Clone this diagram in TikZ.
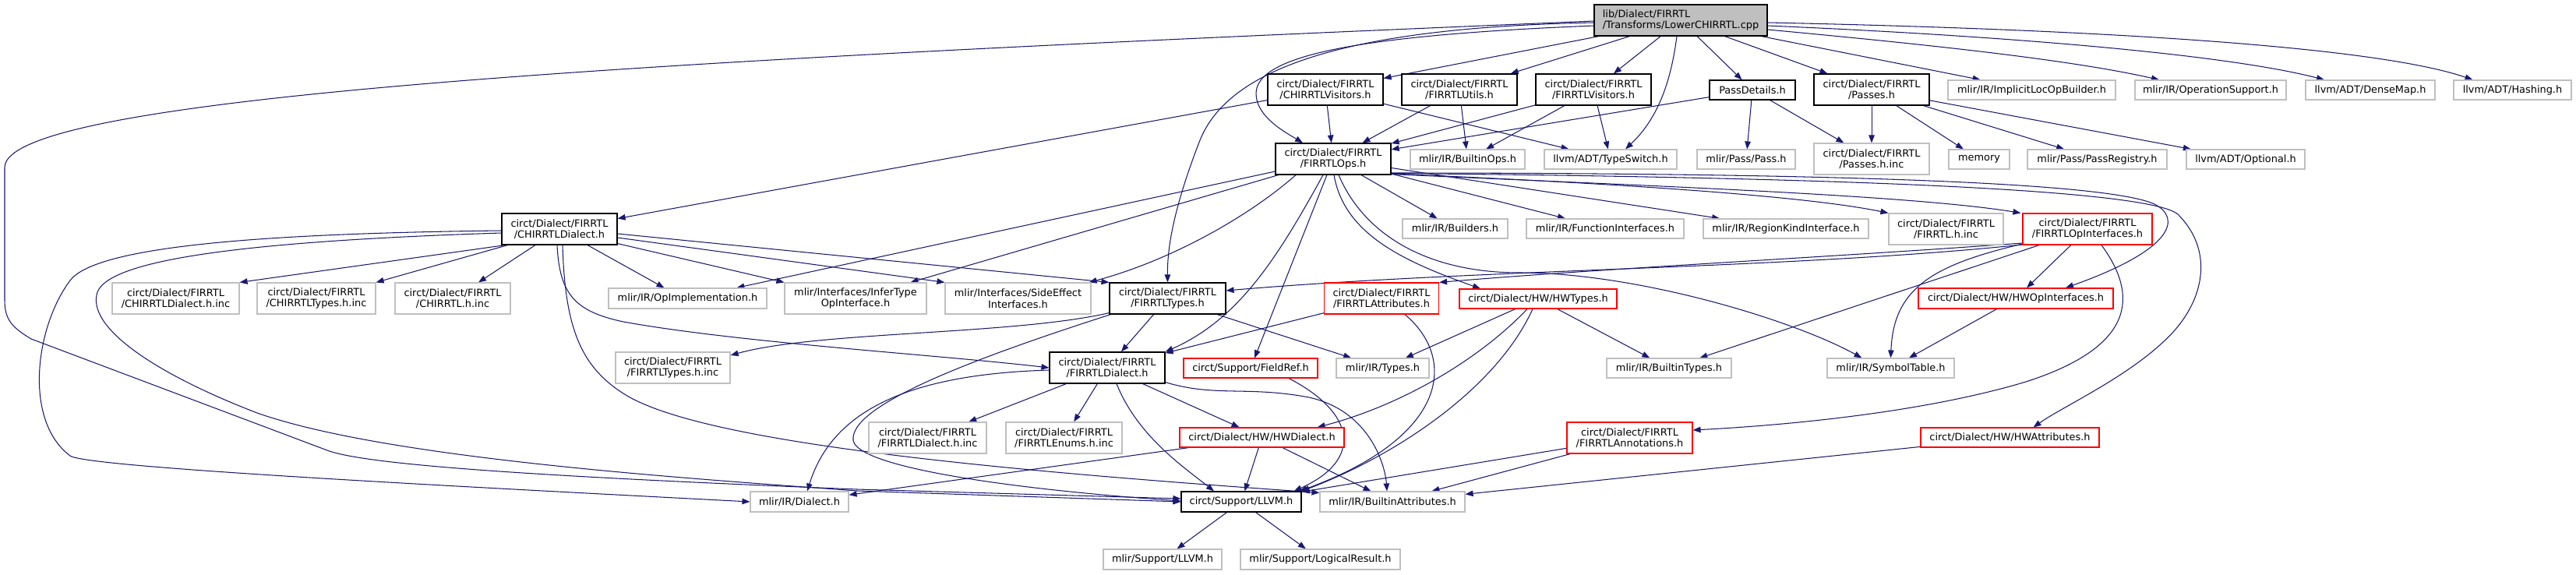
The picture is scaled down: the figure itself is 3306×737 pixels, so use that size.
\documentclass[tikz,border=0pt]{standalone}
\usepackage{fontspec}
\setmainfont{DejaVu Sans}
\usetikzlibrary{arrows.meta,calc,backgrounds}
\definecolor{edgeblue}{HTML}{191970}
\definecolor{lgray}{HTML}{BFBFBF}
\definecolor{rootgray}{HTML}{BFBFBF}
\tikzset{
  base/.style={inner sep=0pt, line width=1.15pt, fill=white, align=center,
    font=\fontsize{12.9}{14.5}\selectfont},
  nb/.style={base, draw=black},
  ng/.style={base, draw=lgray},
  nr/.style={base, draw=red},
  nroot/.style={base, draw=black, fill=rootgray, align=left},
  e/.style={draw=edgeblue, line width=1.05pt, -{Triangle[length=10pt,width=7.5pt]}}
}
\begin{document}
\begin{tikzpicture}[x=1pt,y=-1pt]
\useasboundingbox (0,0) rectangle (3306,737);
% row 0
\node[nroot, minimum width=222, minimum height=40] (cpp) at (2157,26) {lib/Dialect/FIRRTL\\/Transforms/LowerCHIRRTL.cpp};
% row 1
\node[nb, minimum width=148, minimum height=40] (chv) at (1701,115) {circt/Dialect/FIRRTL\\/CHIRRTLVisitors.h};
\node[nb, minimum width=148, minimum height=40] (fu) at (1873,115) {circt/Dialect/FIRRTL\\/FIRRTLUtils.h};
\node[nb, minimum width=148, minimum height=40] (fv) at (2045,115) {circt/Dialect/FIRRTL\\/FIRRTLVisitors.h};
\node[nb, minimum width=110, minimum height=25] (pd) at (2249,115.5) {PassDetails.h};
\node[nb, minimum width=148, minimum height=40] (ps) at (2402,115) {circt/Dialect/FIRRTL\\/Passes.h};
\node[ng, minimum width=215, minimum height=25] (ilob) at (2607.5,115.5) {mlir/IR/ImplicitLocOpBuilder.h};
\node[ng, minimum width=194, minimum height=25] (opsup) at (2837,115.5) {mlir/IR/OperationSupport.h};
\node[ng, minimum width=166, minimum height=25] (dm) at (3042,115.5) {llvm/ADT/DenseMap.h};
\node[ng, minimum width=151, minimum height=25] (hs) at (3224.5,115.5) {llvm/ADT/Hashing.h};
% row 2
\node[nb, minimum width=148, minimum height=40] (ops) at (1711,204) {circt/Dialect/FIRRTL\\/FIRRTLOps.h};
\node[ng, minimum width=147, minimum height=25] (bo) at (1883.5,204.5) {mlir/IR/BuiltinOps.h};
\node[ng, minimum width=170, minimum height=25] (tsw) at (2067,204.5) {llvm/ADT/TypeSwitch.h};
\node[ng, minimum width=126, minimum height=25] (pass) at (2241,204.5) {mlir/Pass/Pass.h};
\node[ng, minimum width=148, minimum height=40] (psinc) at (2402,204) {circt/Dialect/FIRRTL\\/Passes.h.inc};
\node[ng, minimum width=78, minimum height=25] (mem) at (2540,204.5) {memory};
\node[ng, minimum width=179, minimum height=25] (preg) at (2691.5,204.5) {mlir/Pass/PassRegistry.h};
\node[ng, minimum width=152, minimum height=25] (opt) at (2882,204.5) {llvm/ADT/Optional.h};
% row 3
\node[nb, minimum width=148, minimum height=40] (chd) at (718,294) {circt/Dialect/FIRRTL\\/CHIRRTLDialect.h};
\node[ng, minimum width=135, minimum height=25] (bld) at (1867.5,293.5) {mlir/IR/Builders.h};
\node[ng, minimum width=202, minimum height=25] (fif) at (2060,293.5) {mlir/IR/FunctionInterfaces.h};
\node[ng, minimum width=212, minimum height=25] (rki) at (2292,293.5) {mlir/IR/RegionKindInterface.h};
\node[ng, minimum width=147, minimum height=40] (fhinc) at (2497.5,294) {circt/Dialect/FIRRTL\\/FIRRTL.h.inc};
\node[nr, minimum width=166, minimum height=40] (opif) at (2679,294) {circt/Dialect/FIRRTL\\/FIRRTLOpInterfaces.h};
% row 4
\node[ng, minimum width=163, minimum height=40] (chdinc) at (225.5,383) {circt/Dialect/FIRRTL\\/CHIRRTLDialect.h.inc};
\node[ng, minimum width=152, minimum height=40] (chtinc) at (406,383) {circt/Dialect/FIRRTL\\/CHIRRTLTypes.h.inc};
\node[ng, minimum width=148, minimum height=40] (chinc) at (581,383) {circt/Dialect/FIRRTL\\/CHIRRTL.h.inc};
\node[ng, minimum width=203, minimum height=26] (opimpl) at (882.5,383) {mlir/IR/OpImplementation.h};
\node[ng, minimum width=182, minimum height=40] (infer) at (1098,383) {mlir/Interfaces/InferType\\OpInterface.h};
\node[ng, minimum width=187, minimum height=40] (side) at (1306.5,383) {mlir/Interfaces/SideEffect\\Interfaces.h};
\node[nb, minimum width=149, minimum height=40] (ft) at (1498.5,383) {circt/Dialect/FIRRTL\\/FIRRTLTypes.h};
\node[nr, minimum width=147, minimum height=40] (fa) at (1773,383) {circt/Dialect/FIRRTL\\/FIRRTLAttributes.h};
\node[nr, minimum width=202, minimum height=25] (hwt) at (1974,383.5) {circt/Dialect/HW/HWTypes.h};
\node[nr, minimum width=250, minimum height=26] (hwop) at (2587,383) {circt/Dialect/HW/HWOpInterfaces.h};
% row 5
\node[ng, minimum width=147, minimum height=40] (ftinc) at (863.5,472) {circt/Dialect/FIRRTL\\/FIRRTLTypes.h.inc};
\node[nb, minimum width=148, minimum height=40] (fd) at (1421,472) {circt/Dialect/FIRRTL\\/FIRRTLDialect.h};
\node[nr, minimum width=172, minimum height=25] (fref) at (1605,472.5) {circt/Support/FieldRef.h};
\node[ng, minimum width=119, minimum height=25] (types) at (1774.5,472.5) {mlir/IR/Types.h};
\node[ng, minimum width=160, minimum height=25] (bt) at (2142,472.5) {mlir/IR/BuiltinTypes.h};
\node[ng, minimum width=163, minimum height=25] (st) at (2426.5,472.5) {mlir/IR/SymbolTable.h};
% row 6
\node[ng, minimum width=151, minimum height=40] (fdinc) at (1190.5,562) {circt/Dialect/FIRRTL\\/FIRRTLDialect.h.inc};
\node[ng, minimum width=149, minimum height=40] (fenum) at (1365.5,562) {circt/Dialect/FIRRTL\\/FIRRTLEnums.h.inc};
\node[nr, minimum width=211, minimum height=25] (hwd) at (1619.5,561.5) {circt/Dialect/HW/HWDialect.h};
\node[nr, minimum width=161, minimum height=40] (fan) at (2091.5,562) {circt/Dialect/FIRRTL\\/FIRRTLAnnotations.h};
\node[nr, minimum width=229, minimum height=25] (hwa) at (2579.5,561.5) {circt/Dialect/HW/HWAttributes.h};
% row 7
\node[ng, minimum width=126, minimum height=26] (dia) at (1026,644) {mlir/IR/Dialect.h};
\node[nb, minimum width=154, minimum height=26] (llvm) at (1593,644) {circt/Support/LLVM.h};
\node[ng, minimum width=186, minimum height=26] (ba) at (1787,644) {mlir/IR/BuiltinAttributes.h};
% row 8
\node[ng, minimum width=152, minimum height=26] (mllvm) at (1492,718) {mlir/Support/LLVM.h};
\node[ng, minimum width=205, minimum height=26] (lres) at (1694.5,718) {mlir/Support/LogicalResult.h};

\begin{scope}[on background layer]
% cpp
\draw[e] (cpp) -- (chv);
\draw[e] (cpp) -- (fu);
\draw[e] (cpp) -- (fv);
\draw[e] (cpp) -- (pd);
\draw[e] (cpp) -- (ps);
\draw[e] (cpp) -- (ilob);
\draw[e] ($(cpp.east)+(0,12)$) .. controls (2450,55) and (2650,75) .. ($(opsup.north)+(-66,0)$);
\draw[e] ($(cpp.east)+(0,7)$) .. controls (2550,45) and (2850,68) .. ($(dm.north)+(-59,0)$);
\draw[e] ($(cpp.east)+(0,3)$) .. controls (2700,38) and (3050,60) .. ($(hs.north)+(-51,0)$);
\draw[e] ($(cpp.south)+(-5,0)$) .. controls (2145,100) and (2130,150) .. ($(tsw.north)+(19,0)$);
\draw[e] ($(cpp.west)+(0,7)$) .. controls (1750,45) and (1612,70) .. (1612,120) .. controls (1612,150) and (1650,170) .. ($(ops.north)+(-39,0)$);
\draw[e] ($(cpp.west)+(0,3)$) .. controls (1750,35) and (1580,80) .. (1540,180) .. controls (1505,270) and (1498,320) .. (ft.north);
\draw[e] ($(cpp.west)+(0,1)$) .. controls (900,75) and (6,120) .. (6,215) -- (6,385) .. controls (6,410) and (15,420) .. (40,435) -- (420,578) .. controls (470,597) and (700,612) .. (1100,628) -- ($(llvm.west)+(0,-4)$);
% chv, fu, fv, pd, ps
\draw[e] (chv) -- (chd);
\draw[e] (chv) -- (ops);
\draw[e] (chv) -- (tsw);
\draw[e] (fu) -- (ops);
\draw[e] (fu) -- (bo);
\draw[e] (fv) -- (ops);
\draw[e] (fv) -- (bo);
\draw[e] (fv) -- (tsw);
\draw[e] (pd) -- (ops);
\draw[e] (pd) -- (pass);
\draw[e] (pd) -- (psinc);
\draw[e] (ps) -- (psinc);
\draw[e] (ps) -- (mem);
\draw[e] (ps) -- (preg);
\draw[e] (ps) -- (opt);
% ops
\draw[e] (ops) -- (opimpl);
\draw[e] (ops) -- (infer);
\draw[e] ($(ops.south)+(-48,0)$) .. controls (1600,280) and (1500,335) .. ($(side.north east)+(-3,0)$);
\draw[e] ($(ops.south)+(-13,0)$) .. controls (1640,330) and (1590,410) .. (fd.north east);
\draw[e] (ops) -- (fref);
\draw[e] ($(ops.south)+(1,0)$) .. controls (1725,300) and (1800,335) .. ($(hwt.north)+(-74,0)$);
\draw[e] ($(ops.south)+(7,0)$) .. controls (1750,300) and (1830,350) .. (1950,350) .. controls (2100,350) and (2300,410) .. ($(st.north)+(-37,0)$);
\draw[e] (ops) -- (bld);
\draw[e] (ops) -- (fif);
\draw[e] (ops) -- (rki);
\draw[e] ($(ops.east)+(0,19)$) .. controls (2000,232) and (2300,248) .. (fhinc.north west);
\draw[e] ($(ops.east)+(0,19.5)$) .. controls (2100,238) and (2450,250) .. ($(opif.north west)+(-2,0)$);
\draw[e] ($(ops.east)+(0,18)$) .. controls (2300,222) and (2700,232) .. (2765,262) .. controls (2800,280) and (2790,320) .. ($(hwop.north)+(64,0)$);
\draw[e] ($(ops.east)+(0,18.5)$) .. controls (2400,228) and (2760,245) .. (2795,275) .. controls (2840,320) and (2830,380) .. (2790,425) .. controls (2740,480) and (2650,520) .. ($(hwa.north)+(30,0)$);
% opif
\draw[e] ($(opif.west)+(0,18)$) .. controls (2350,330) and (2050,345) .. (fa.north east);
\draw[e] ($(opif.west)+(0,20)$) .. controls (2300,345) and (1900,345) .. ($(ft.east)+(0,-10)$);
\draw[e] (opif) -- (bt);
\draw[e] ($(opif.south west)+(2,-2)$) .. controls (2480,340) and (2430,370) .. (st.north);
\draw[e] (opif) -- (hwop);
\draw[e] ($(opif.south)+(18,0)$) .. controls (2745,380) and (2740,445) .. (2600,490) .. controls (2450,535) and (2250,548) .. ($(fan.east)+(0,-10)$);
% hw side
\draw[e] (hwop) -- (st);
\draw[e] (hwa) -- (ba);
\draw[e] (fan) -- (llvm);
\draw[e] (fan) -- (ba);
\draw[e] (hwt) -- (types);
\draw[e] (hwt) -- (bt);
\draw[e] ($(hwt.south)+(-14,0)$) .. controls (1900,460) and (1800,520) .. ($(hwd.north east)+(-35,0)$);
\draw[e] ($(hwt.south)+(-7,0)$) .. controls (1920,500) and (1790,585) .. (llvm.north east);
% fa, fref
\draw[e] (fa) -- (fd);
\draw[e] ($(fa.south)+(30,0)$) .. controls (1870,460) and (1860,560) .. ($(llvm.north east)+(-3,0)$);
\draw[e] ($(fref.south)+(49,0)$) .. controls (1740,530) and (1750,590) .. ($(llvm.north east)+(-10,0)$);
% ft
\draw[e] (ft) -- (fd);
\draw[e] (ft) -- (types);
\draw[e] ($(ft.south west)+(0,-2)$) .. controls (1300,430) and (1050,425) .. ($(ftinc.east)+(0,-16)$);
\draw[e] ($(ft.south west)+(2,0)$) .. controls (1250,460) and (1090,520) .. (1095,565) .. controls (1100,600) and (1300,628) .. ($(llvm.west)+(0,-1)$);
% fd
\draw[e] (fd) -- (fdinc);
\draw[e] (fd) -- (fenum);
\draw[e] (fd) -- (hwd);
\draw[e] ($(fd.south)+(12,0)$) .. controls (1460,560) and (1520,600) .. ($(llvm.north)+(-35,0)$);
\draw[e] ($(fd.south east)+(0,-2)$) .. controls (1560,510) and (1600,495) .. (1680,510) .. controls (1760,528) and (1778,600) .. ($(ba.north)+(-7,0)$);
\draw[e] ($(fd.west)+(0,3)$) .. controls (1180,480) and (1070,520) .. ($(dia.north)+(10,0)$);
% hwd
\draw[e] (hwd) -- (dia);
\draw[e] (hwd) -- (llvm);
\draw[e] (hwd) -- (ba);
% llvm
\draw[e] (llvm) -- (mllvm);
\draw[e] (llvm) -- (lres);
% chd
\draw[e] ($(chd.south west)+(5,0)$) -- (chdinc.north east);
\draw[e] ($(chd.south west)+(8,0)$) -- (chtinc.north east);
\draw[e] ($(chd.south)+(-31,0)$) -- ($(chinc.north)+(33,0)$);
\draw[e] ($(chd.south)+(36,0)$) -- ($(opimpl.north)+(-30,0)$);
\draw[e] ($(chd.south east)+(0,-2)$) -- (infer.north west);
\draw[e] ($(chd.east)+(0,11)$) -- (side.north west);
\draw[e] ($(chd.east)+(0,6)$) -- (ft.north west);
\draw[e] ($(chd.south)+(-3,0)$) .. controls (718,380) and (740,400) .. (800,413) .. controls (950,440) and (1200,455) .. (fd.west);
\draw[e] ($(chd.south)+(4,0)$) .. controls (725,420) and (745,470) .. (800,505) .. controls (900,570) and (1300,605) .. ($(ba.north west)+(0,2)$);
\draw[e] ($(chd.west)+(0,2)$) .. controls (300,300) and (120,320) .. (90,360) .. controls (45,420) and (30,540) .. (90,585) .. controls (110,600) and (600,625) .. (dia.west);
\draw[e] ($(chd.west)+(0,5)$) .. controls (300,310) and (140,335) .. (125,375) .. controls (110,420) and (200,480) .. (330,530) .. controls (500,590) and (900,615) .. (1100,630) -- (llvm.west);
\end{scope}
\end{tikzpicture}
\end{document}
